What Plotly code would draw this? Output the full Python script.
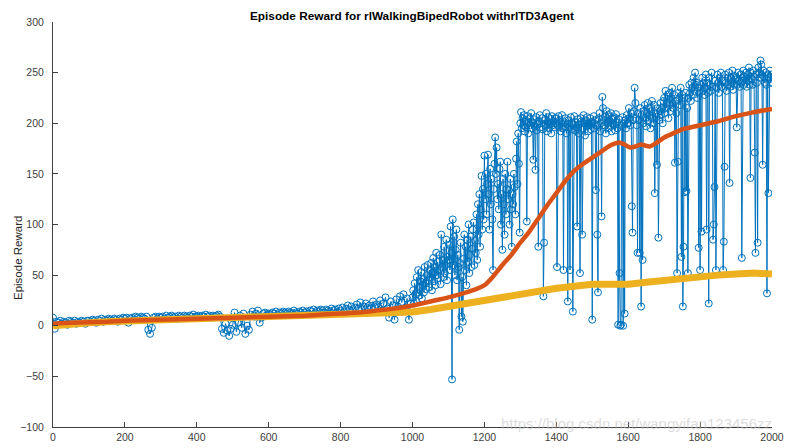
import plotly.graph_objects as go

# ---------------- data ----------------
# episodes 0..995, every 5th episode
reward_early = [
    8, -3, 4, 3, 5, 2, 4, 3, 1, 5, 4, 3, 5, 2, 4, 3, 5, 4, 2, 5,
    5, 4, 6, 5, 3, 6, 5, 7, 4, 6, 5, 7, 6, 5, 7, 6, 4, 7, 6, 8,
    7, 8, 3, 7, 8, 6, 9, 8, 7, 9, 8, 7, 9, -4, -8, -2, 8, 9, 7, 9,
    8, 9, 7, 10, 8, 9, 10, 8, 9, 7, 10, 9, 8, 10, 9, 8, 10, 9, 11, 9,
    9, 10, 8, 10, 9, 11, 9, 10, 8, 10, 9, 10, 11, 9, -3, -7, 2, -5, -10, -3,
    1, 13, -6, 3, 10, -2, 12, -8, 0, -4, 11, 14, 9, 12, 15, 3, 8, 12, 13, 11,
    12, 11, 13, 12, 14, 11, 13, 12, 14, 13, 12, 14, 13, 12, 15, 13, 12, 14, 13, 15,
    13, 14, 12, 15, 14, 16, 13, 15, 14, 16, 15, 13, 16, 15, 14, 17, 15, 16, 14, 17,
    15, 18, 14, 17, 20, 16, 19, 15, 18, 21, 17, 23, 16, 19, 22, 18, 20, 17, 24, 19,
    21, 18, 25, 15, 22, 28, 17, 8, 24, 20, 6, 26, 19, 29, 23, 31, 18, 27, 6, 22,
]
# episodes 1000..2000, every 2nd episode
reward_late = [
    28, 35, 22, 42, 31, 25, 48, 33, 55, 38, 30, 44, 53, 27, 40, 46, 33, 58, 42, 36,
    50, 60, 45, 38, 55, 48, 62, 35, 52, 67, 44, 58, 40, 72, 50, 63, 47, 55, 70, 41,
    90, 58, 65, 48, 78, 52, 60, 85, 45, 68,
    65, 80, 55, 98, 72, -53, 105, 60, 88, 50, 75, 95, 45, 70, 58, -4, 62, 82, 9, 48,
    4, 66, 90, 55, 78, 40, 85, 63, 100, 52, 70, 88, 58, 76, 95, 102, 60, 84, 72, 110,
    65, 120, 90, 130, 78, 115, 148, 95, 135, 105,
    168, 125, 150, 110, 140, 169, 130, 95, 155, 120, 145, 105, 55, 135, 160, 186, 150, 176, 125, 140,
    115, 155, 162, 100, 130, 75, 145, 120, 90, 150, 110, 135, 162, 125, 134, 100, 145, 115, 78, 130,
    120, 150, 137, 110, 165, 182, 140, 190, 160, 92,
    200, 211, 195, 205, 198, 208, 192, 203, 196, 103, 207, 190, 200, 205, 198, 210, 195, 201, 164, 204,
    197, 154, 206, 193, 199, 78, 202, 208, 196, 200, 205, 194, 29, 82, 203, 198, 210, 192, 201, 206,
    195, 199, 204, 190, 207, 198, 202, 196, 205, 200,
    205, 58, 198, 207, 196, 203, 192, 200, 208, 195, 55, 201, 197, 205, 190, 199, 24, 203, 196, 55,
    206, 194, 200, 14, 198, 207, 193, 201, 196, 98, 204, 190, 199, 52, 205, 202, 90, 195, 208, 200,
    188, 203, 197, 206, 192, 200, 198, 205, 194, 201,
    6, 200, 207, 195, 203, 134, 198, 90, 33, 205, 210, 192, 200, 108, 226, 215, 203, 198, 207, 190,
    212, 200, 195, 208, 203, 197, 210, 192, 205, 200, 198, 206, 193, 209, 201, 195, 1, 204, 52, 0,
    1, 198, 206, 0, 200, 12, 203, 195, 208, 200,
    200, 215, 205, 198, 210, 118, 92, 203, 212, 235, 220, 205, 198, 72, 210, 203, 72, 215, 19, 208,
    65, 200, 212, 218, 205, 197, 210, 220, 202, 215, 208, 195, 212, 222, 205, 200, 218, 131, 210, 206,
    159, 215, 87, 203, 212, 220, 208, 215, 200, 222,
    225, 210, 232, 215, 220, 228, 205, 218, 230, 212, 225, 235, 220, 215, 228, 161, 222, 210, 52, 162,
    230, 225, 218, 235, 68, 228, 19, 78, 225, 132, 230, 133, 215, 52, 225, 238, 230, 222, 240, 235,
    228, 245, 232, 250, 238, 240, 225, 235, 77, 230,
    55, 238, 93, 245, 232, 240, 228, 235, 248, 95, 240, 230, 22, 245, 238, 232, 250, 236, 85, 100,
    137, 242, 55, 235, 248, 240, 230, 245, 238, 250, 236, 242, 55, 83, 157, 248, 240, 232, 245, 238,
    250, 141, 236, 245, 240, 252, 233, 247, 238, 243,
    245, 196, 238, 250, 242, 236, 248, 240, 67, 245, 252, 238, 246, 240, 250, 236, 248, 242, 255, 238,
    146, 250, 244, 238, 252, 246, 171, 72, 248, 240, 82, 255, 250, 245, 262, 258, 248, 159, 252, 245,
    240, 250, 238, 32, 248, 131, 245, 252, 240, 248,
    240,
]
episodes_early = list(range(0, 1000, 5))
episodes_late = list(range(1000, 2001, 2))
episodes = episodes_early + episodes_late
episode_reward = reward_early + reward_late

avg_episodes = [0, 50, 100, 150, 200, 250, 300, 350, 400, 450, 500, 550, 600, 650, 700,
                750, 800, 850, 900, 950, 1000, 1050, 1100, 1150, 1175, 1200, 1225, 1250,
                1275, 1300, 1325, 1350, 1375, 1400, 1425, 1450, 1475, 1500, 1525, 1550,
                1575, 1590, 1605, 1620, 1635, 1660, 1680, 1700, 1725, 1750, 1775, 1800,
                1850, 1900, 1950, 2000]
average_reward = [2, 3, 3.5, 4, 5, 5.5, 6, 6.5, 7, 7.5, 8, 8.5, 9, 9.5, 10,
                  11, 12, 13, 15, 17, 20, 24, 28, 33, 36, 40, 49, 60,
                  70, 82, 93, 106, 119, 131, 143, 153, 160, 166, 172, 178,
                  181, 179, 176, 177, 179, 177, 181, 186, 190, 194, 196, 198,
                  202, 207, 211, 214]

q0_episodes = [0, 50, 100, 150, 200, 250, 300, 350, 400, 450, 500, 550, 600, 650, 700,
               750, 800, 850, 900, 950, 1000, 1050, 1100, 1150, 1200, 1250, 1300, 1350,
               1400, 1450, 1500, 1550, 1600, 1650, 1700, 1750, 1800, 1850, 1900, 1950, 2000]
episode_q0 = [0, 2, 3, 4, 5, 5.5, 6, 6.5, 7, 7.5, 8, 8.5, 9, 9.5, 10,
              10.5, 11, 11.5, 12, 12.5, 13.5, 16, 19, 23, 26, 29, 32, 35,
              37, 39, 41, 41, 41, 43, 45, 47, 49, 50, 51, 52, 51]

x_ticks = [0, 200, 400, 600, 800, 1000, 1200, 1400, 1600, 1800, 2000]
y_ticks = [-100, -50, 0, 50, 100, 150, 200, 250, 300]

# ---------------- figure ----------------
BLUE = "#0072BD"
ORANGE = "#D95319"
YELLOW = "#EDB120"
AXIS = "#404040"
FONT = "Liberation Sans, Arial, sans-serif"

fig = go.Figure()
fig.add_trace(go.Scatter(
    x=episodes, y=episode_reward, mode="lines+markers",
    line=dict(color=BLUE, width=1),
    marker=dict(symbol="circle-open", size=7, color=BLUE, line=dict(width=1)),
    showlegend=False,
))
fig.add_trace(go.Scatter(
    x=q0_episodes, y=episode_q0, mode="lines",
    line=dict(color=YELLOW, width=7),
    showlegend=False,
))
fig.add_trace(go.Scatter(
    x=avg_episodes, y=average_reward, mode="lines",
    line=dict(color=ORANGE, width=4.5, shape="spline", smoothing=0.5),
    showlegend=False,
))

# page has an 8px body margin, so the figure is drawn 8px in from the window corner
OFF = 8
W, H = 793 - OFF, 448 - OFF
L, T = 53 - OFF, 22 - OFF
R, B = W - (772 - OFF), H - (427 - OFF)
pw, ph = W - L - R, H - T - B

fig.update_layout(
    width=W, height=H,
    margin=dict(l=L, r=R, t=T, b=B, autoexpand=False),
    paper_bgcolor="white", plot_bgcolor="white",
    font=dict(family=FONT, size=10.5, color=AXIS),
    title=dict(text="<b>Episode Reward for rlWalkingBipedRobot withrlTD3Agent</b>",
               x=(412 - OFF) / W, xanchor="center", y=1 - (16 - OFF) / H, yanchor="middle",
               yref="container", xref="container",
               font=dict(family=FONT, size=11.8, color="#000000")),
    xaxis=dict(range=[0, 2000], tickvals=x_ticks, showgrid=False, zeroline=False,
               showline=True, linecolor=AXIS, linewidth=1, mirror=False,
               ticks="inside", ticklen=5, tickcolor=AXIS, automargin=False,
               tickfont=dict(size=10.5, color=AXIS)),
    yaxis=dict(range=[-100, 300], tickvals=y_ticks, showgrid=False, zeroline=False,
               showline=True, linecolor=AXIS, linewidth=1, mirror=False,
               ticks="inside", ticklen=5, tickcolor=AXIS, ticklabelstandoff=6,
               automargin=False, tickfont=dict(size=10.5, color=AXIS)),
    annotations=[
        dict(text="Episode Reward", xref="paper", yref="paper",
             x=(18 - 53) / pw, y=(427 - 258) / ph, xanchor="center", yanchor="middle",
             textangle=-90, showarrow=False,
             font=dict(family=FONT, size=11.5, color="#262626")),
        dict(text="https://blog.csdn.net/wangyifan123456zz", xref="paper", yref="paper",
             x=(499 - 53) / pw, y=(427 - 423) / ph, xanchor="left", yanchor="middle",
             showarrow=False,
             font=dict(family=FONT, size=15, color="rgba(190,190,190,0.55)")),
    ],
)

fig.write_html("out.html")
